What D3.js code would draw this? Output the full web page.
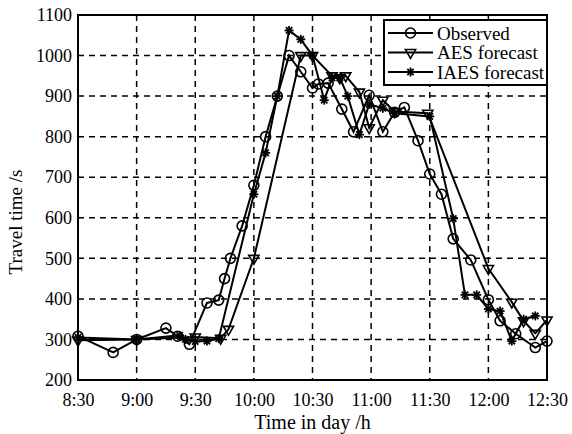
<!DOCTYPE html>
<html>
<head>
<meta charset="utf-8">
<script src="https://cdn.jsdelivr.net/npm/d3@7"></script>
<style>
  body { margin: 0; background: #fff; }
  svg { display: block; font-family: "Liberation Serif", "DejaVu Serif", serif; }
</style>
</head>
<body>
<div id="chart"></div>
<script>
// time of day (H:MM) and travel time in seconds
var observedTimes = ['8:30','8:48','9:00','9:15','9:21','9:27','9:36','9:42','9:45','9:48','9:54','10:00','10:06','10:12','10:18','10:24','10:30','10:33','10:38','10:45','10:51','10:59','11:06','11:12','11:17','11:24','11:30','11:36','11:42','11:51','12:00','12:06','12:14','12:24','12:30'];
var observedValues = [308, 268, 300, 328, 308, 288, 390, 397, 450, 500, 580, 680, 800, 900, 1000, 960, 920, 930, 932, 868, 812, 902, 812, 860, 872, 790, 708, 658, 548, 496, 398, 346, 314, 280, 296];

var aesTimes = ['8:30','9:00','9:30','9:43','9:47','10:00','10:24','10:30','10:40','10:44','10:47','10:54','10:59','11:06','11:12','11:29','12:00','12:12','12:18','12:24','12:30'];
var aesValues = [298, 300, 306, 303, 325, 500, 1000, 1000, 950, 945, 950, 910, 822, 890, 862, 858, 475, 392, 346, 315, 348];

var iaesTimes = ['8:30','9:00','9:22','9:25','9:30','9:36','9:42','10:00','10:06','10:12','10:18','10:24','10:30','10:36','10:40','10:44','10:48','10:54','10:59','11:06','11:12','11:30','11:42','11:48','11:54','12:00','12:06','12:12','12:18','12:24'];
var iaesValues = [305, 300, 310, 300, 295, 296, 302, 658, 760, 900, 1062, 1040, 1000, 890, 945, 945, 900, 805, 880, 870, 858, 850, 598, 410, 410, 375, 370, 296, 350, 358];

var xTickLabels = ['8:30','9:00','9:30','10:00','10:30','11:00','11:30','12:00','12:30'];
var yTickValues = [200, 300, 400, 500, 600, 700, 800, 900, 1000, 1100];
var seriesNames = ['Observed', 'AES forecast', 'IAES forecast'];

var width = 572, height = 434,
    margin = { top: 15, right: 25, bottom: 54, left: 78 },
    w = width - margin.left - margin.right,
    h = height - margin.top - margin.bottom;

var parse = d3.timeParse('%H:%M');
function zip( times, values )
{
  return times.map( function( t, i ) { return { x: parse( t ), y: values[i] }; } );
}
var series = [
  { name: seriesNames[0], marker: 'circle', data: zip( observedTimes, observedValues ) },
  { name: seriesNames[1], marker: 'triangle', data: zip( aesTimes, aesValues ) },
  { name: seriesNames[2], marker: 'star', data: zip( iaesTimes, iaesValues ) }
];

var x = d3.scaleTime().domain( [ parse('8:30'), parse('12:30') ] ).range( [ 0, w ] );
var y = d3.scaleLinear().domain( [ 200, 1100 ] ).range( [ h, 0 ] );
var xTicks = xTickLabels.map( parse );

var svg = d3.select('#chart').append('svg')
  .attr('width', width)
  .attr('height', height);

var g = svg.append('g').attr('transform', 'translate(' + margin.left + ',' + margin.top + ')');

// dashed grid
g.append('g').selectAll('line.vgrid')
  .data( xTicks.slice( 1, -1 ) )
  .enter().append('line')
    .attr('x1', function(d) { return x(d); })
    .attr('x2', function(d) { return x(d); })
    .attr('y1', 0).attr('y2', h)
    .attr('stroke', '#000').attr('stroke-width', 1.5)
    .attr('stroke-dasharray', '6,5');

g.append('g').selectAll('line.hgrid')
  .data( yTickValues.slice( 1, -1 ) )
  .enter().append('line')
    .attr('x1', 0).attr('x2', w)
    .attr('y1', function(d) { return y(d); })
    .attr('y2', function(d) { return y(d); })
    .attr('stroke', '#000').attr('stroke-width', 1.5)
    .attr('stroke-dasharray', '6,5');

// axes
var xAxis = g.append('g')
  .attr('transform', 'translate(0,' + h + ')')
  .call( d3.axisBottom( x ).tickValues( xTicks ).tickFormat( d3.timeFormat('%-H:%M') ).tickSize( 0 ).tickPadding( 13 ) );
var yAxis = g.append('g')
  .call( d3.axisLeft( y ).tickValues( yTickValues ).tickFormat( d3.format('d') ).tickSize( 0 ).tickPadding( 6 ) );

[ xAxis, yAxis ].forEach( function( a )
{
  a.select('.domain').remove();
  a.selectAll('text')
    .attr('fill', '#000')
    .style('font-family', '"Liberation Serif", serif')
    .style('font-size', '18px');
} );

// lines
var line = d3.line()
  .x( function(d) { return x( d.x ); } )
  .y( function(d) { return y( d.y ); } );

g.selectAll('path.series')
  .data( series )
  .enter().append('path')
    .attr('class', 'series')
    .attr('d', function(d) { return line( d.data ); })
    .attr('fill', 'none')
    .attr('stroke', '#000')
    .attr('stroke-width', 2);

// markers
var tri = d3.symbol().type( d3.symbolTriangle ).size( 45 );
function drawMarker( sel, kind )
{
  if( kind === 'circle' )
  {
    sel.append('circle').attr('r', 5)
      .attr('fill', 'none').attr('stroke', '#000').attr('stroke-width', 1.6);
  }
  else if( kind === 'triangle' )
  {
    sel.append('path').attr('d', tri).attr('transform', 'rotate(180)')
      .attr('fill', 'none').attr('stroke', '#000').attr('stroke-width', 1.6);
  }
  else
  {
    [ 0, 45, 90, 135 ].forEach( function( a )
    {
      sel.append('line')
        .attr('x1', -4.5).attr('x2', 4.5).attr('y1', 0).attr('y2', 0)
        .attr('transform', 'rotate(' + a + ')')
        .attr('stroke', '#000').attr('stroke-width', 1.8);
    } );
    sel.append('circle').attr('r', 2).attr('fill', '#000');
  }
}

series.forEach( function( s )
{
  g.append('g').selectAll('g.pt')
    .data( s.data )
    .enter().append('g')
      .attr('transform', function(d) { return 'translate(' + x( d.x ) + ',' + y( d.y ) + ')'; })
      .each( function() { drawMarker( d3.select( this ), s.marker ); } );
} );

// frame
g.append('rect')
  .attr('width', w).attr('height', h)
  .attr('fill', 'none').attr('stroke', '#000').attr('stroke-width', 2);

// legend
var lg = g.append('g').attr('transform', 'translate(' + ( w - 163 ) + ',5)');
lg.append('rect')
  .attr('width', 163).attr('height', 65)
  .attr('fill', '#fff').attr('stroke', '#000').attr('stroke-width', 2);

series.forEach( function( s, i )
{
  var row = lg.append('g').attr('transform', 'translate(0,' + ( 13 + i * 19.5 ) + ')');
  row.append('line')
    .attr('x1', 4).attr('x2', 49)
    .attr('stroke', '#000').attr('stroke-width', 2);
  drawMarker( row.append('g').attr('transform', 'translate(26.5,0)'), s.marker );
  row.append('text')
    .attr('x', 53).attr('dy', '0.35em')
    .style('font-size', '19px')
    .text( s.name );
} );

// axis titles
svg.append('text')
  .attr('x', margin.left + w / 2)
  .attr('y', 429)
  .attr('text-anchor', 'middle')
  .style('font-size', '20px')
  .text('Time in day /h');

svg.append('text')
  .attr('transform', 'translate(22,222) rotate(-90)')
  .attr('text-anchor', 'middle')
  .style('font-size', '19px')
  .text('Travel time /s');
</script>
</body>
</html>
